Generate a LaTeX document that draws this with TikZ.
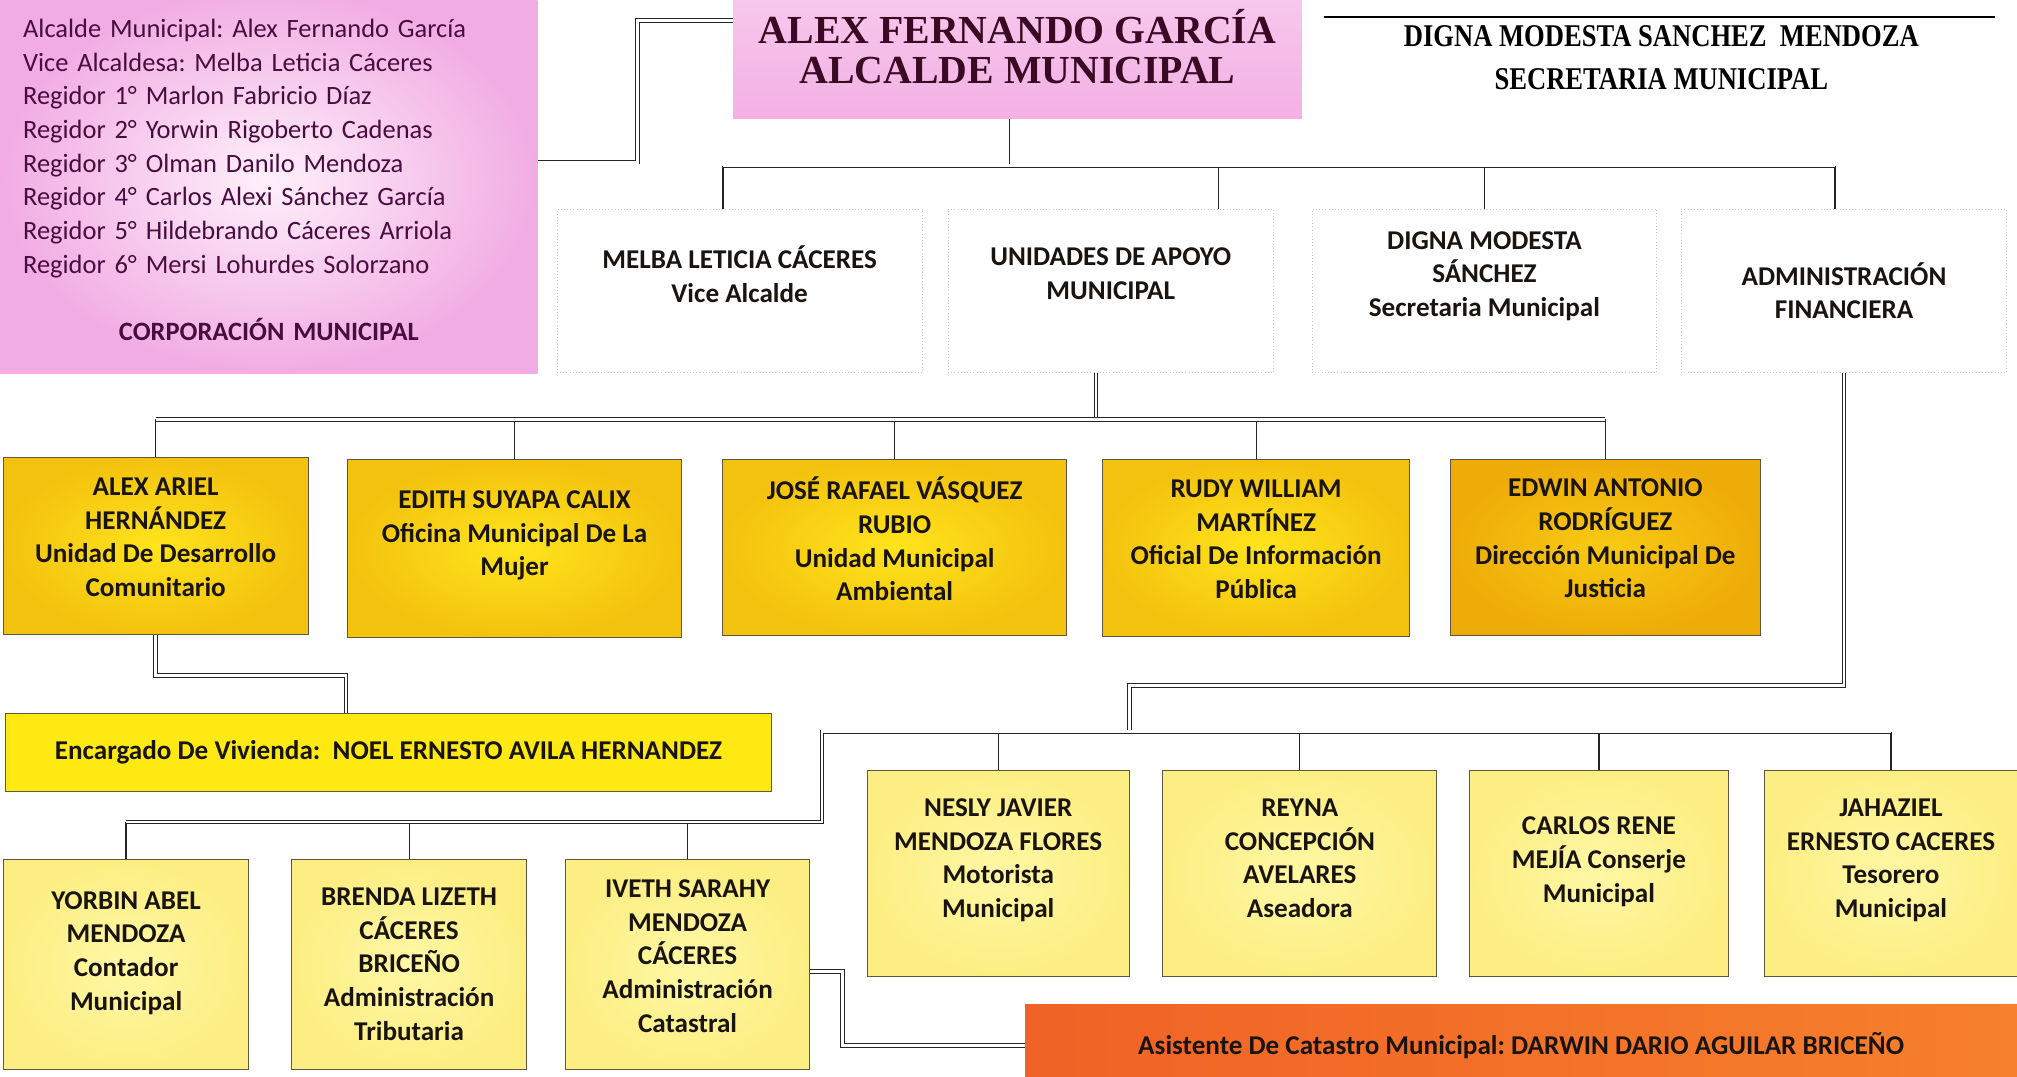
\documentclass[tikz,border=0pt]{standalone}
\usepackage{fontspec}
\setmainfont{Carlito}
\newfontfamily\timesfont{Liberation Serif}
\usepackage{graphicx}
\usepackage{tikz}
\usetikzlibrary{calc, positioning}
\frenchspacing

\definecolor{corpPink}{RGB}{241,172,227}
\definecolor{corpLight}{RGB}{254,240,250}
\definecolor{mayorPink}{RGB}{243,176,228}
\definecolor{mayorLight}{RGB}{247,205,238}
\definecolor{goldEdge}{RGB}{243,194,14}
\definecolor{goldMid}{RGB}{255,228,28}
\definecolor{amberEdge}{RGB}{238,172,8}
\definecolor{amberMid}{RGB}{248,202,18}
\definecolor{lemon}{RGB}{255,233,18}
\definecolor{paleEdge}{RGB}{252,238,130}
\definecolor{paleMid}{RGB}{255,247,165}
\definecolor{orangeL}{RGB}{240,98,38}
\definecolor{orangeR}{RGB}{246,128,44}
\definecolor{boxLine}{RGB}{95,85,65}
\definecolor{inkPlum}{RGB}{72,12,62}
\definecolor{inkMaroon}{RGB}{58,10,36}
\definecolor{inkDark}{RGB}{25,20,15}

\tikzset{
    orgBox/.style={rectangle, align=center, inner sep=1mm, text=inkDark, font=\bfseries\fontsize{12}{14.9}\selectfont},
    corpBox/.style={rectangle, inner color=corpLight, outer color=corpPink, minimum width=83.6mm, minimum height=60mm, text width=76.4mm, inner xsep=3.6mm, align=left, text=inkPlum, font=\fontsize{11.7}{14.9}\selectfont},
    mayorBox/.style={rectangle, top color=mayorLight, bottom color=mayorPink, minimum width=88.4mm, minimum height=22.4mm, align=center, text=inkMaroon, font=\timesfont\bfseries\fontsize{17.6}{17.6}\selectfont},
    unitBox/.style={orgBox, draw=black!22, densely dotted, fill=white, minimum height=25.4mm},
    goldBox/.style={orgBox, draw=boxLine, inner color=goldMid, outer color=goldEdge, minimum height=27.4mm},
    amberBox/.style={goldBox, inner color=amberMid, outer color=amberEdge},
    lemonBox/.style={orgBox, draw=boxLine, fill=lemon, minimum width=119.2mm, minimum height=12mm},
    paleBox/.style={orgBox, draw=boxLine, inner color=paleMid, outer color=paleEdge},
    orangeBox/.style={orgBox, left color=orangeL, right color=orangeR, minimum width=154.2mm, minimum height=12.8mm},
    signName/.style={align=center, text=black, font=\timesfont\bfseries\fontsize{14}{19}\selectfont},
    bus/.style={draw=black!85, line width=0.4pt, double=white, double distance=0.45mm},
    drop/.style={draw=black!85, line width=0.5pt}
}

\begin{document}
\begin{tikzpicture}[x=0.2mm, y=-0.2mm]
    \useasboundingbox (0,0) rectangle (1568,837);

    % Council, mayor and secretary
    \node[corpBox] (corp) at (209,140) {Alcalde Municipal: Alex Fernando García\\
        Vice Alcaldesa: Melba Leticia Cáceres\\
        Regidor 1° Marlon Fabricio Díaz\\
        Regidor 2° Yorwin Rigoberto Cadenas\\
        Regidor 3° Olman Danilo Mendoza\\
        Regidor 4° Carlos Alexi Sánchez García\\
        Regidor 5° Hildebrando Cáceres Arriola\\
        Regidor 6° Mersi Lohurdes Solorzano\\[5.3mm]
        \makebox[\linewidth]{\bfseries CORPORACIÓN MUNICIPAL}};
    \node[mayorBox] (mayor) at (791,36) {ALEX FERNANDO GARCÍA\\ALCALDE MUNICIPAL};
    \node[signName] (secretaria) at (1291.5,45) {\scalebox{0.84}[1]{DIGNA MODESTA SANCHEZ\ \ MENDOZA}\\\scalebox{0.84}[1]{SECRETARIA MUNICIPAL}};
    \draw[line width=0.8pt] (1029,13) -- (1551,13);

    % Second level
    \node[unitBox, minimum width=56.8mm] (melba) at (575,226) {MELBA LETICIA CÁCERES\\Vice Alcalde\\};
    \node[unitBox, minimum width=50.6mm] (unidades) at (863.5,226) {UNIDADES DE APOYO\\MUNICIPAL\\};
    \node[unitBox, minimum width=53.6mm] (digna) at (1154,226) {DIGNA MODESTA\\SÁNCHEZ\\Secretaria Municipal\\};
    \node[unitBox, minimum width=50.6mm] (admin) at (1433.5,226) {ADMINISTRACIÓN\\FINANCIERA};

    % Support units
    \node[goldBox, minimum width=47.4mm] (alexAriel) at (121,424.5) {ALEX ARIEL\\HERNÁNDEZ\\Unidad De Desarrollo\\Comunitario\\[-2.5mm]};
    \node[goldBox, minimum width=52mm, minimum height=27.6mm] (edith) at (400,426.5) {EDITH SUYAPA CALIX\\Oficina Municipal De La\\Mujer\\[-0.5mm]};
    \node[goldBox, minimum width=53.4mm] (jose) at (695.5,425.5) {JOSÉ RAFAEL VÁSQUEZ\\RUBIO\\Unidad Municipal\\Ambiental\\[-2.6mm]};
    \node[goldBox, minimum width=47.8mm] (rudy) at (976.5,426) {RUDY WILLIAM\\MARTÍNEZ\\Oficial De Información\\Pública\\[-2.5mm]};
    \node[amberBox, minimum width=48.2mm] (edwin) at (1248,425.5) {EDWIN ANTONIO\\RODRÍGUEZ\\Dirección Municipal De\\Justicia\\[-2.5mm]};
    \node[lemonBox] (vivienda) at (302,585) {Encargado De Vivienda:\ \ NOEL ERNESTO AVILA HERNANDEZ};

    % Finance staff
    \node[paleBox, minimum width=40.8mm, minimum height=32mm] (nesly) at (776,679) {NESLY JAVIER\\MENDOZA FLORES\\Motorista\\Municipal\\[-0.5mm]};
    \node[paleBox, minimum width=42.6mm, minimum height=32mm] (reyna) at (1010.5,679) {REYNA\\CONCEPCIÓN\\AVELARES\\Aseadora\\[-0.5mm]};
    \node[paleBox, minimum width=40.2mm, minimum height=32mm] (carlos) at (1243,679) {CARLOS RENE\\MEJÍA Conserje\\Municipal\\[-0.9mm]};
    \node[paleBox, minimum width=39.2mm, minimum height=32mm] (jahaziel) at (1470,679) {JAHAZIEL\\ERNESTO CACERES\\Tesorero\\Municipal\\[-0.5mm]};
    \node[paleBox, minimum width=38.2mm, minimum height=32.6mm] (yorbin) at (98,750) {YORBIN ABEL\\MENDOZA\\Contador\\Municipal\\[-0.9mm]};
    \node[paleBox, minimum width=36.6mm, minimum height=32.6mm] (brenda) at (318,749.5) {BRENDA LIZETH\\CÁCERES\\BRICEÑO\\Administración\\Tributaria};
    \node[paleBox, minimum width=38mm, minimum height=32.6mm] (iveth) at (534.5,750) {IVETH SARAHY\\MENDOZA\\CÁCERES\\Administración\\Catastral\\[-2.5mm]};
    \node[orangeBox] (asistente) at (1182.5,813) {Asistente De Catastro Municipal: DARWIN DARIO AGUILAR BRICEÑO};

    % Lines from the mayor
    \coordinate (topBus) at (786,129);
    \coordinate (melbaTop) at ($(melba.north)+(-13,0)$);
    \coordinate (unidadesTop) at ($(unidades.north)+(83.5,0)$);
    \coordinate (adminTop) at ($(admin.north)+(-7,0)$);
    \draw[bus] ($(corp.east)+(0,-14)$) -- ++(77,0) |- ($(mayor.west)+(0,-20)$);
    \draw[bus] (mayor.south -| topBus) -- (topBus);
    \foreach \t in {melbaTop, unidadesTop, digna.north, adminTop}
        \draw[drop] (\t) -- (\t |- topBus);
    \draw[bus] (melbaTop |- topBus) -- (adminTop |- topBus);

    % Lines to the support units
    \coordinate (unitBus) at (852,326);
    \draw[bus] (unitBus |- unidades.south) -- (unitBus);
    \foreach \n in {alexAriel, edith, jose, rudy, edwin}
        \draw[drop] (\n.north) -- (\n.north |- unitBus);
    \draw[bus] (alexAriel.north |- unitBus) -- (edwin.north |- unitBus);
    \draw[bus] (alexAriel.south) -- ++(0,32) -| ($(vivienda.north)+(-33,0)$);

    % Lines to the finance staff
    \coordinate (finBus) at (639,569);
    \coordinate (taxBus) at (639,639);
    \coordinate (finJoin) at (878,569);
    \draw[bus] (admin.south) |- ($(finJoin)+(0,-36)$) -- (finJoin);
    \foreach \n in {nesly, reyna, carlos, jahaziel}
        \draw[drop] (\n.north) -- (\n.north |- finBus);
    \foreach \n in {yorbin, brenda, iveth}
        \draw[drop] (\n.north) -- (\n.north |- taxBus);
    \draw[bus] (jahaziel.north |- finBus) -- (finBus) -- (taxBus) -- (yorbin.north |- taxBus);
    \draw[bus] ($(iveth.east)+(0,5)$) -- ++(25,0) |- (asistente.west);
\end{tikzpicture}
\end{document}
